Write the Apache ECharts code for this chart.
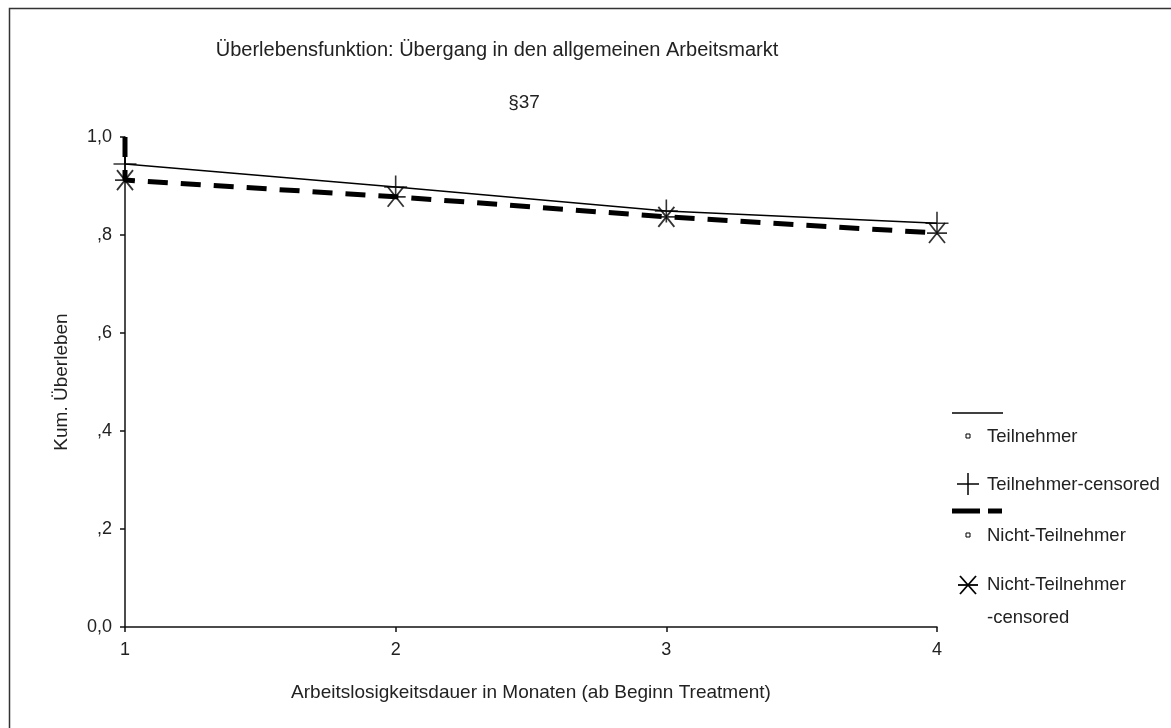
<!DOCTYPE html>
<html><head><meta charset="utf-8">
<script src="https://cdn.jsdelivr.net/npm/echarts@6/dist/echarts.min.js"></script>
<style>html,body{margin:0;padding:0;background:#fff}#c{width:1171px;height:728px}</style>
</head><body><div id="c"></div>
<script>
const months = [1, 2, 3, 4];
const teilnehmer = [0.945, 0.898, 0.849, 0.824];
const nichtTeilnehmer = [0.912, 0.878, 0.837, 0.804];
const startSurvival = 1.0;
const yTickLabels = {0: '0,0', 0.2: ',2', 0.4: ',4', 0.6: ',6', 0.8: ',8', 1: '1,0'};
const legendNames = ['Teilnehmer', 'Teilnehmer-censored', 'Nicht-Teilnehmer', 'Nicht-Teilnehmer', '-censored'];
const titleText = 'Überlebensfunktion: Übergang in den allgemeinen Arbeitsmarkt';
const subtitleText = '§37';
const xName = 'Arbeitslosigkeitsdauer in Monaten (ab Beginn Treatment)';
const yName = 'Kum. Überleben';

const FONT = '"Liberation Sans", Arial, sans-serif';
const TXT = '#222';
const plusPath = 'path://M10,0 L10,20 M0,10 L20,10';
const starPath = 'path://M0,10 L20,10 M2,0 L18,20 M18,0 L2,20';

function stepData(vals) {
  const d = [[months[0], startSurvival]];
  months.forEach((m, i) => d.push([m, vals[i]]));
  return d;
}
function ln(x1, y1, x2, y2, w, dash) {
  const s = {stroke: '#000', lineWidth: w || 1.5};
  if (dash) s.lineDash = dash;
  return {type: 'line', silent: true, shape: {x1, y1, x2, y2}, style: s};
}
function txt(t, x, y) {
  return {type: 'text', silent: true, x, y, style: {text: t, font: '18.5px ' + FONT, fill: TXT, textVerticalAlign: 'middle'}};
}

const chart = echarts.init(document.getElementById('c'), null, {renderer: 'canvas'});
chart.setOption({
  backgroundColor: '#fff',
  animation: false,
  title: [
    {text: titleText, left: 492, top: 35, textAlign: 'center',
     textStyle: {fontFamily: FONT, fontSize: 20, fontWeight: 'normal', color: TXT}},
    {text: subtitleText, left: 519, top: 88, textAlign: 'center',
     textStyle: {fontFamily: FONT, fontSize: 19, fontWeight: 'normal', color: TXT}}
  ],
  grid: {left: 125, top: 137, right: 234, bottom: 101, containLabel: false},
  xAxis: {
    type: 'value', min: 1, max: 4, interval: 1,
    name: xName, nameLocation: 'middle', nameGap: 56,
    nameTextStyle: {fontFamily: FONT, fontSize: 19, color: TXT},
    axisLine: {lineStyle: {color: '#111', width: 1.5}},
    axisTick: {show: true, length: 5, lineStyle: {color: '#111', width: 1.5}},
    axisLabel: {fontFamily: FONT, fontSize: 18, color: TXT, margin: 14},
    splitLine: {show: false}
  },
  yAxis: {
    type: 'value', min: 0, max: 1, interval: 0.2,
    name: yName, nameLocation: 'middle', nameGap: 54, nameRotate: 90,
    nameTextStyle: {fontFamily: FONT, fontSize: 19, color: TXT},
    axisLine: {show: true, lineStyle: {color: '#111', width: 1.5}},
    axisTick: {show: true, length: 5, lineStyle: {color: '#111', width: 1.5}},
    axisLabel: {fontFamily: FONT, fontSize: 18, color: TXT, margin: 13,
      formatter: v => yTickLabels[Math.round(v * 10) / 10] ?? ''},
    splitLine: {show: false}
  },
  series: [
    {name: 'Teilnehmer', type: 'line', data: stepData(teilnehmer), symbol: 'none',
     lineStyle: {color: '#000', width: 1.5}, z: 3},
    {name: 'Nicht-Teilnehmer', type: 'line', data: stepData(nichtTeilnehmer), symbol: 'none',
     lineStyle: {color: '#000', width: 5, type: [20, 13]}, z: 2},
    {name: 'Teilnehmer-censored', type: 'scatter', data: months.map((m, i) => [m, teilnehmer[i]]),
     symbol: plusPath, symbolSize: 23, itemStyle: {color: 'none', borderColor: '#000', borderWidth: 1.6}, z: 4},
    {name: 'Nicht-Teilnehmer-censored', type: 'scatter', data: months.map((m, i) => [m, nichtTeilnehmer[i]]),
     symbol: starPath, symbolSize: 20, itemStyle: {color: 'none', borderColor: '#000', borderWidth: 1.8}, z: 4}
  ],
  graphic: [
    {type: 'rect', silent: true, shape: {x: 9.5, y: 8.5, width: 1200, height: 800}, style: {fill: 'none', stroke: '#333', lineWidth: 1.5}},
    ln(952, 413, 1003, 413, 1.5),
    {type: 'rect', silent: true, shape: {x: 966, y: 434, width: 4, height: 4}, style: {fill: '#fff', stroke: '#000', lineWidth: 1}},
    txt(legendNames[0], 987, 437),
    ln(968, 473, 968, 495), ln(957, 484, 979, 484),
    txt(legendNames[1], 987, 485),
    ln(952, 511, 1002, 511, 5, [28, 8]),
    {type: 'rect', silent: true, shape: {x: 966, y: 533, width: 4, height: 4}, style: {fill: '#fff', stroke: '#000', lineWidth: 1}},
    txt(legendNames[2], 987, 536),
    ln(958, 585, 978, 585, 1.8), ln(960, 576, 976, 594, 1.8), ln(976, 576, 960, 594, 1.8),
    txt(legendNames[3], 987, 585),
    txt(legendNames[4], 987, 618)
  ]
});
</script></body></html>
